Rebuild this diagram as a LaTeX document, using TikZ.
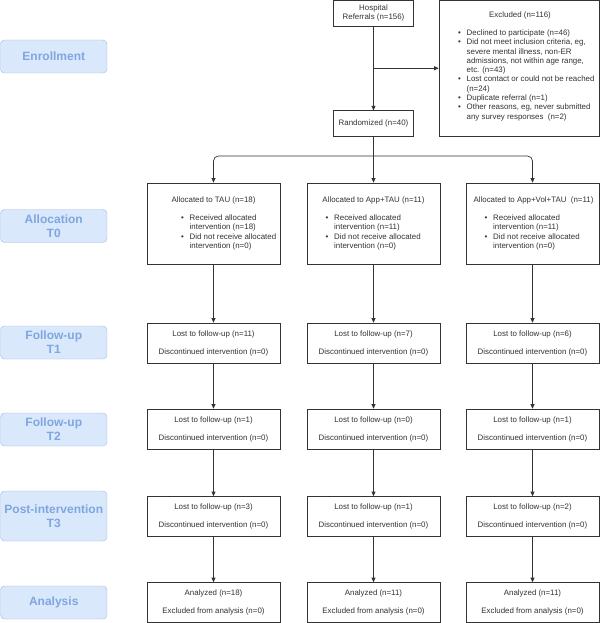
\documentclass[tikz,border=0pt]{standalone}
\usepackage{fontspec}
\setmainfont{Liberation Sans}
\usetikzlibrary{arrows.meta,calc}
\definecolor{lblfill}{HTML}{DAE8FC}
\definecolor{lbldraw}{HTML}{9FB8DC}
\definecolor{lbltext}{HTML}{7EA6E0}
\definecolor{ln}{HTML}{333333}
\newcommand\blist[1]{\begin{tabular}[t]{@{}p{8.5pt}@{}l@{}}#1\end{tabular}}
\begin{document}
\begin{tikzpicture}[x=1pt,y=-1pt,
  box/.style={draw=ln, line width=0.7pt, fill=white, minimum width=133pt, minimum height=40pt,
    inner sep=0pt, align=center, font=\fontsize{7.9}{18}\selectfont, text=ln},
  sbox/.style={box, minimum width=80pt, minimum height=25.5pt, font=\fontsize{7.9}{9.3}\selectfont},
  txt/.style={inner sep=0pt, text=ln, font=\fontsize{7.9}{9.3}\selectfont},
  lbl/.style={draw=lbldraw, fill=lblfill, rounded corners=4pt, minimum width=106.5pt, minimum height=33pt,
    inner sep=0pt, align=center, font=\bfseries\fontsize{12}{14}\selectfont, text=lbltext},
  arr/.style={draw=ln, line width=0.7pt, -{Triangle[length=4.5pt,width=4pt]}}]
\useasboundingbox (0,0) rectangle (600,623);

% left phase labels
\node[lbl] (l0) at (53.75,56.5) {Enrollment};
\node[lbl] (l1) at (53.75,226) {Allocation\\T0};
\node[lbl] (l2) at (53.75,342.5) {Follow-up\\T1};
\node[lbl] (l3) at (53.75,429.5) {Follow-up\\T2};
\node[lbl, minimum height=50pt] (l4) at (53.75,516) {Post-intervention\\T3};
\node[lbl] (l5) at (53.75,602.5) {Analysis};

% enrollment
\node[sbox] (hosp) at (373.5,13.25) {Hospital\\Referrals (n=156)};
\node[sbox] (rand) at (373.5,123.5) {Randomized (n=40)};
\node[box, minimum width=160pt, minimum height=135.5pt] (excl) at (519,68.25) {};
\node[txt, anchor=base] (exclt) at (520,17.8) {Excluded (n=116)};
\node[txt, anchor=base west] (excll) at (458,35.5) {\blist{%
\textbullet & Declined to participate (n=46)\\
\textbullet & Did not meet inclusion criteria, eg,\\
 & severe mental illness, non-ER\\
 & admissions, not within age range,\\
 & etc. (n=43)\\
\textbullet & Lost contact or could not be reached\\
 & (n=24)\\
\textbullet & Duplicate referral (n=1)\\
\textbullet & Other reasons, eg, never submitted\\
 & any survey responses\ \ (n=2)}};

% allocation
\node[box, minimum height=81pt] (a1) at (213.5,223.5) {};
\node[box, minimum height=81pt] (a2) at (373.5,223.5) {};
\node[box, minimum height=81pt] (a3) at (532.5,223.5) {};
\node[txt, anchor=base] (a1t) at (213.5,202.8) {Allocated to TAU (n=18)};
\node[txt, anchor=base] (a2t) at (373.5,202.8) {Allocated to App+TAU (n=11)};
\node[txt, anchor=base] (a3t) at (533.5,202.8) {Allocated to App+Vol+TAU\ \ (n=11)};
\node[txt, anchor=base west] (a1l) at (181,220.5) {\blist{%
\textbullet & Received allocated\\ & intervention (n=18)\\
\textbullet & Did not receive allocated\\ & intervention (n=0)}};
\node[txt, anchor=base west] (a2l) at (325.5,220.5) {\blist{%
\textbullet & Received allocated\\ & intervention (n=11)\\
\textbullet & Did not receive allocated\\ & intervention (n=0)}};
\node[txt, anchor=base west] (a3l) at (484.5,220.5) {\blist{%
\textbullet & Received allocated\\ & intervention (n=11)\\
\textbullet & Did not receive allocated\\ & intervention (n=0)}};

% follow-up T1
\node[box] (b1) at (213.5,343) {Lost to follow-up (n=11)\\Discontinued intervention (n=0)};
\node[box] (b2) at (373.5,343) {Lost to follow-up (n=7)\\Discontinued intervention (n=0)};
\node[box] (b3) at (532.5,343) {Lost to follow-up (n=6)\\Discontinued intervention (n=0)};
% follow-up T2
\node[box] (c1) at (213.5,429) {Lost to follow-up (n=1)\\Discontinued intervention (n=0)};
\node[box] (c2) at (373.5,429) {Lost to follow-up (n=0)\\Discontinued intervention (n=0)};
\node[box] (c3) at (532.5,429) {Lost to follow-up (n=1)\\Discontinued intervention (n=0)};
% post-intervention T3
\node[box] (d1) at (213.5,516.5) {Lost to follow-up (n=3)\\Discontinued intervention (n=0)};
\node[box] (d2) at (373.5,516.5) {Lost to follow-up (n=1)\\Discontinued intervention (n=0)};
\node[box] (d3) at (532.5,516.5) {Lost to follow-up (n=2)\\Discontinued intervention (n=0)};
% analysis
\node[box] (e1) at (213.5,602.5) {Analyzed (n=18)\\Excluded from analysis (n=0)};
\node[box] (e2) at (373.5,602.5) {Analyzed (n=11)\\Excluded from analysis (n=0)};
\node[box] (e3) at (532.5,602.5) {Analyzed (n=11)\\Excluded from analysis (n=0)};

% connectors
\draw[arr] (hosp) -- (rand);
\coordinate (br) at (373.5,68.25);
\draw[arr] (br) -- (excl.west);
\draw[arr] (rand) -- (a2);
\coordinate (jn) at (373.5,156);
\draw[arr, rounded corners=5pt] (jn) -| (a1.north);
\draw[arr, rounded corners=5pt] (jn) -| (a3.north);
\foreach \i in {1,2,3}{
  \draw[arr] (a\i) -- (b\i);
  \draw[arr] (b\i) -- (c\i);
  \draw[arr] (c\i) -- (d\i);
  \draw[arr] (d\i) -- (e\i);
}
\end{tikzpicture}
\end{document}
